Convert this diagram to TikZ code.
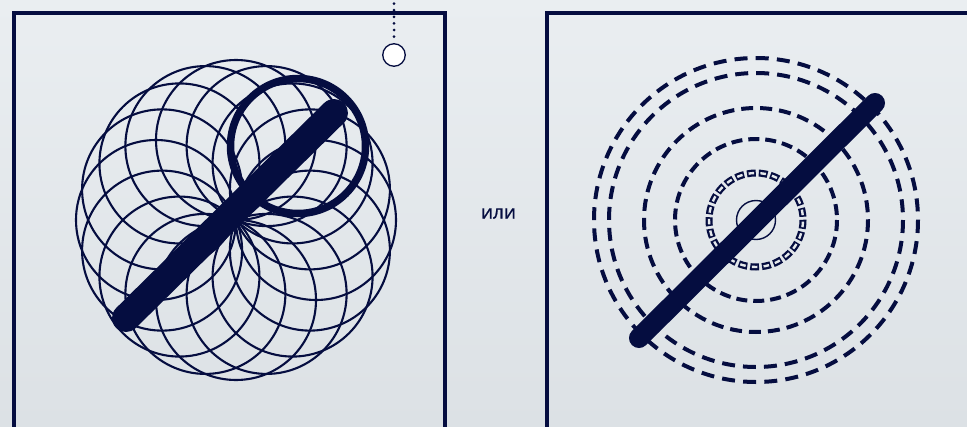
\documentclass[tikz,border=0pt]{standalone}
\usepackage{fontspec}
\setmainfont{Open Sans}
\newfontfamily\ilifont[FakeBold=0.8]{Open Sans}
\definecolor{navy}{RGB}{5,13,64}
\definecolor{bgtop}{RGB}{234,238,241}
\definecolor{bgbot}{RGB}{220,225,229}
\definecolor{bgmid}{RGB}{229,233,236}
\begin{document}
\begin{tikzpicture}[x=1pt,y=-1pt,
  frame/.style={draw=navy,line width=4},
  thinring/.style={draw=navy,line width=2.1},
  dring/.style={draw=navy,line width=4},
  bar/.style={draw=navy,line cap=round}]
\useasboundingbox (0,0) rectangle (967,426);
\shade[top color=bgtop,bottom color=bgbot] (0,0) rectangle (967,426);
\clip (0,0) rectangle (967,426);
% frames
\draw[frame] (14,440) -- (14,13) -- (444.5,13) -- (444.5,440);
\draw[frame] (546.5,440) -- (546.5,13) -- (990,13);
% pin
\coordinate (pintop) at (394,-3);
\node[circle,draw=navy,fill=white,line width=1.3,minimum size=22.5,inner sep=0] (pin) at (394,55) {};
\draw[navy,line width=3,line cap=round,dash pattern=on 0pt off 6.6pt] (pintop) -- (pin.north);
% left figure
\coordinate (C) at (236,220);
\foreach \a in {0,22.5,...,337.5} \draw[thinring] (C) ++(\a:80) circle (80);
\coordinate (T) at (298,146);
\draw[navy,line width=7.5] (T) circle (67.5);
\coordinate (LA) at (126,318);
\coordinate (LB) at (334,113);
\draw[bar,line width=28] (LA) -- (LB);
% text
\node[text=navy,font=\ilifont\fontsize{19}{21}\selectfont,inner sep=0] (ili) at (498.5,213.5) {или};
% right figure
\coordinate (R) at (756,220);
\draw[dring,dash pattern=on 13pt off 8.2pt] (R) circle (162);
\draw[dring,dash pattern=on 13pt off 8pt] (R) circle (147);
\draw[dring,dash pattern=on 12pt off 7pt] (R) circle (112);
\draw[dring,dash pattern=on 11pt off 6pt] (R) circle (81);
\draw[navy,line width=7,dash pattern=on 8.8pt off 3pt] (R) circle (47);
\draw[bgmid,line width=2.4,dash pattern=on 5.6pt off 6.2pt,dash phase=10.2pt] (R) circle (47);
\draw[navy,line width=1.4] (R) circle (19.5);
\coordinate (RA) at (639,338);
\coordinate (RB) at (875,103);
\draw[bar,line width=20] (RA) -- (RB);
\end{tikzpicture}
\end{document}
